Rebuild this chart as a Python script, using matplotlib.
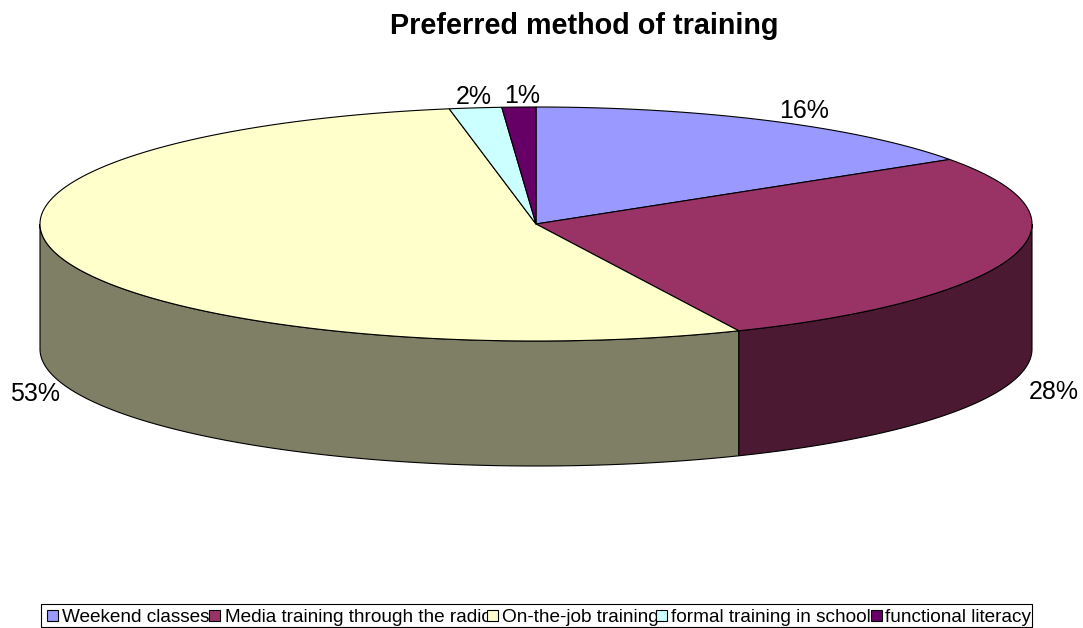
import numpy as np
import matplotlib
matplotlib.use("Agg")
import matplotlib.pyplot as plt
from matplotlib.patches import Polygon, Rectangle

plt.rcParams['font.family'] = ['Liberation Sans', 'DejaVu Sans']

title = "Preferred method of training"
categories = ["Weekend classes", "Media training through the radio", "On-the-job training",
              "formal training in school", "functional literacy"]
values = [15.7, 27.6, 53.9, 1.7, 1.1]
value_labels = ["16%", "28%", "53%", "2%", "1%"]
colors = ["#9999FF", "#993366", "#FFFFCC", "#CCFFFF", "#660066"]
side_colors = ["#4C4C7F", "#4C1933", "#7F7F66", "#667F7F", "#330033"]

# layout, in pixels
W, H = 1083, 628
cx, cy, rx, ry, depth = 536, 224, 496, 117, 125
label_xy = [(804, 111), (1054, 392), (35, 394), (474, 97), (522, 96)]
legend_box = (41, 604, 991, 23)
legend_marker_x = [47, 209, 487, 656, 871]
legend_text_x = [62, 225, 502, 671, 885]

fig = plt.figure(figsize=(W / 100, H / 100), dpi=100)
ax = fig.add_axes([0, 0, 1, 1])
ax.set_xlim(0, W)
ax.set_ylim(H, 0)
ax.axis("off")


def arc(t0, t1, dy=0):
    t = np.radians(np.linspace(t0, t1, max(int(abs(t1 - t0) * 4), 2)))
    return np.column_stack([cx + rx * np.sin(t), cy + dy - ry * np.cos(t)])


edges = np.concatenate([[0], np.cumsum(values)]) / sum(values) * 360

# side walls (only the front half of the ellipse is visible)
for i in range(len(values)):
    a, b = max(edges[i], 90), min(edges[i + 1], 270)
    if b > a:
        top = arc(a, b)
        bottom = arc(b, a, depth)
        ax.add_patch(Polygon(np.vstack([top, bottom]), closed=True, facecolor=side_colors[i],
                             edgecolor="black", linewidth=0.8, zorder=2))

# top faces
for i in range(len(values)):
    pts = np.vstack([[[cx, cy]], arc(edges[i], edges[i + 1])])
    ax.add_patch(Polygon(pts, closed=True, facecolor=colors[i], edgecolor="black",
                         linewidth=0.8, zorder=3, joinstyle="round"))

ax.text(584.5, 33.5, title, ha="center", va="baseline", fontsize=20.7, fontweight="bold", color="black")

for (x, y), s in zip(label_xy, value_labels):
    ax.text(x, y, s, ha="center", va="center", fontsize=18, color="black")

# legend: box, texts, then keys on top of the texts
bx, by, bw, bh = legend_box
ax.add_patch(Rectangle((bx, by), bw, bh, facecolor="white", edgecolor="black", linewidth=0.8, zorder=4))
for x, s in zip(legend_text_x, categories):
    ax.text(x, 622.5, s, ha="left", va="baseline", fontsize=13.7, color="black", zorder=5)
for x, c in zip(legend_marker_x, colors):
    ax.add_patch(Rectangle((x, 610), 11, 11, facecolor=c, edgecolor="black", linewidth=0.8, zorder=6))

fig.savefig("out.png", dpi=100, facecolor="white")
